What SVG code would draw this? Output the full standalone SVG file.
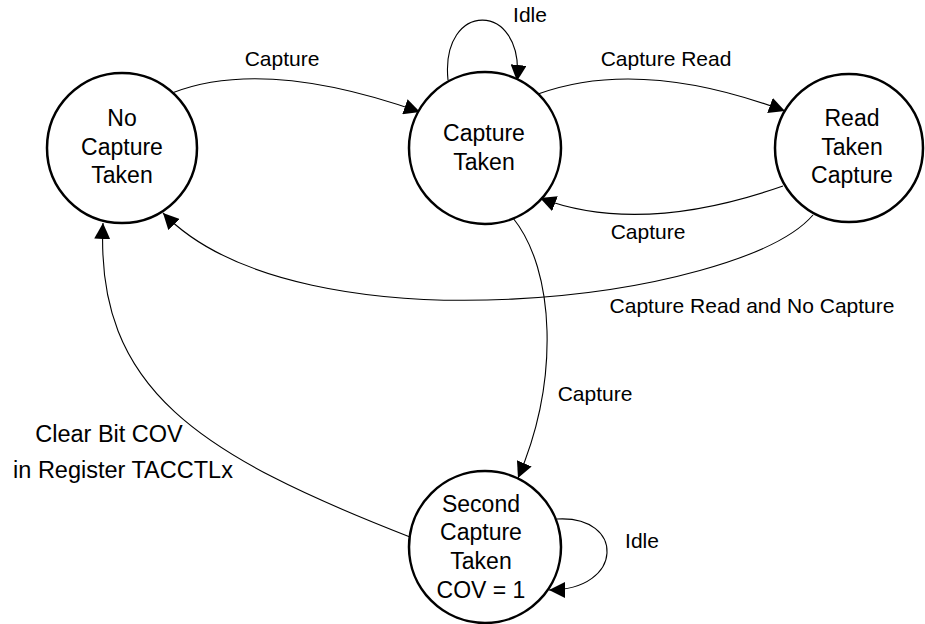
<svg xmlns="http://www.w3.org/2000/svg" width="925" height="624" viewBox="0 0 925 624">
<style>
.node{fill:#fff;stroke:#000;stroke-width:2.5}
.nt{font-family:"Liberation Sans",Arial,sans-serif;font-size:23px;text-anchor:middle;fill:#000}
.lb{font-family:"Liberation Sans",Arial,sans-serif;font-size:21px;text-anchor:middle;fill:#000}
.lb2{font-family:"Liberation Sans",Arial,sans-serif;font-size:23.5px;text-anchor:middle;fill:#000}
.edge{fill:none;stroke:#000;stroke-width:1.1;marker-end:url(#arr)}
</style>
<defs>
<marker id="arr" markerUnits="userSpaceOnUse" markerWidth="18" markerHeight="16" refX="16" refY="8" orient="auto">
<path d="M0,0 L16,8 L0,16 Z" fill="#000"/>
</marker>
</defs>
<rect width="925" height="624" fill="#fff"/>
<g id="connectors">
<path class="edge" d="M172,93 Q264,57 420,112"/>
<path class="edge" d="M448,80 C440,0 525,0 517,81"/>
<path class="edge" d="M538,94 Q640,57 785,111"/>
<path class="edge" d="M783,186 Q640,236 540,198"/>
<path class="edge" d="M813,215 C740,300 300,355 163,213"/>
<path class="edge" d="M513,218 C555,270 560,380 518,478"/>
<path class="edge" d="M557,519 C625,515 625,590 549,590"/>
<path class="edge" d="M410,537 C200,455 95,390 103,223"/>
<text class="lb" x="282" y="66">Capture</text>
<text class="lb" x="530" y="22">Idle</text>
<text class="lb" x="666" y="66">Capture Read</text>
<text class="lb" x="648" y="239">Capture</text>
<text class="lb" x="752" y="313">Capture Read and No Capture</text>
<text class="lb" x="595" y="401">Capture</text>
<text class="lb" x="642" y="548">Idle</text>
<text class="lb2" x="109" y="442">Clear Bit COV</text>
<text class="lb2" x="123" y="478">in Register TACCTLx</text>
</g>
<g id="no-capture-taken">
<circle class="node" cx="122" cy="148" r="75"/>
<text class="nt" x="122" y="126">No</text>
<text class="nt" x="122" y="155">Capture</text>
<text class="nt" x="122" y="183">Taken</text>
</g>
<g id="capture-taken">
<circle class="node" cx="485" cy="148" r="76"/>
<text class="nt" x="484" y="141">Capture</text>
<text class="nt" x="484" y="170">Taken</text>
</g>
<g id="read-taken-capture">
<circle class="node" cx="849" cy="148" r="74"/>
<text class="nt" x="852" y="126">Read</text>
<text class="nt" x="852" y="155">Taken</text>
<text class="nt" x="852" y="183">Capture</text>
</g>
<g id="second-capture-taken">
<circle class="node" cx="485" cy="547" r="76"/>
<text class="nt" x="481" y="512">Second</text>
<text class="nt" x="481" y="540">Capture</text>
<text class="nt" x="481" y="569">Taken</text>
<text class="nt" x="481" y="598">COV = 1</text>
</g>
</svg>
